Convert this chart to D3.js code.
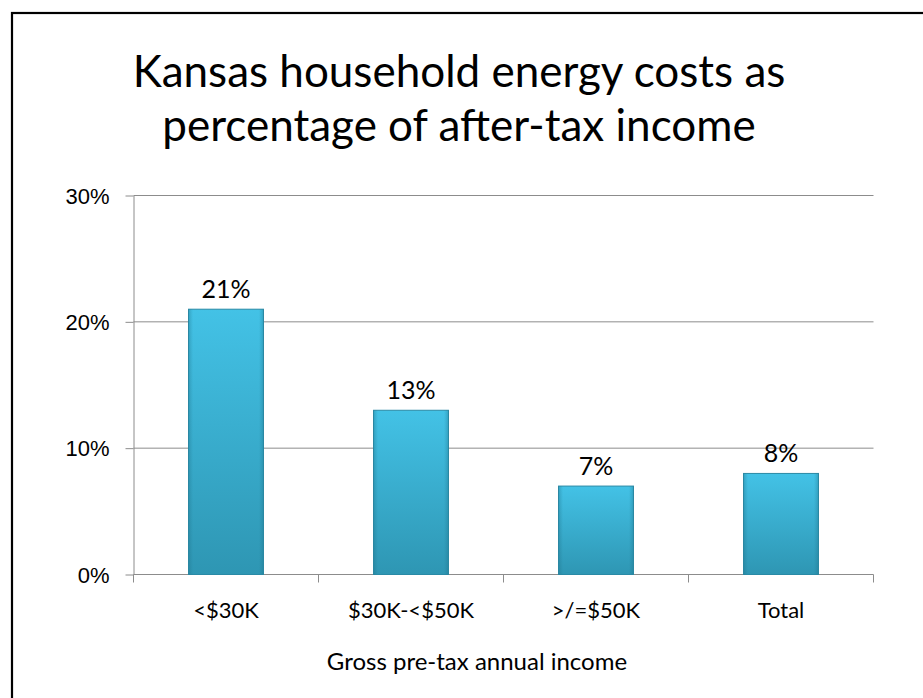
<!DOCTYPE html>
<html>
<head>
<meta charset="utf-8">
<script src="https://cdn.jsdelivr.net/npm/d3@7"></script>
<style>
  body { margin: 0; background: #fff; }
  svg { display: block; font-family: Lato, "Open Sans", sans-serif; }
  .grid line { stroke: #8c8c8c; stroke-width: 1; }
  .axis path, .axis line { stroke: #8c8c8c; stroke-width: 1; }
  .axis text { fill: #000; font-size: 22px; }
</style>
</head>
<body>
<div id="chart"></div>
<script>
// data
const categories = ['<$30K', '$30K-<$50K', '>/=$50K', 'Total'];
const shares = [21, 13, 7, 8];
const yTicks = [0, 10, 20, 30];
const titleLines = ['Kansas household energy costs as', 'percentage of after-tax income'];
const xTitle = 'Gross pre-tax annual income';

const width = 923;
const height = 698;
const marginTop = 195.5;
const marginBottom = 123.5;
const marginLeft = 133.5;
const marginRight = 49.5;

const svg = d3.select('#chart').append('svg')
  .attr('width', width)
  .attr('height', height);

// outer frame, right and bottom sides fall off the picture
svg.append('rect')
  .attr('x', 12)
  .attr('y', 13)
  .attr('width', width + 20)
  .attr('height', height + 20)
  .attr('fill', 'none')
  .attr('stroke', '#000')
  .attr('stroke-width', 2.2);

const defs = svg.append('defs');
const vGrad = defs.append('linearGradient')
  .attr('id', 'barV')
  .attr('x1', 0).attr('y1', 0).attr('x2', 0).attr('y2', 1);
vGrad.append('stop').attr('offset', '0%').attr('stop-color', '#43c2e6');
vGrad.append('stop').attr('offset', '100%').attr('stop-color', '#2e96b3');

const hGrad = defs.append('linearGradient')
  .attr('id', 'barH')
  .attr('x1', 0).attr('y1', 0).attr('x2', 1).attr('y2', 0);
hGrad.append('stop').attr('offset', '0%').attr('stop-color', '#1d6f86').attr('stop-opacity', 0.35);
hGrad.append('stop').attr('offset', '6%').attr('stop-color', '#1d6f86').attr('stop-opacity', 0);
hGrad.append('stop').attr('offset', '94%').attr('stop-color', '#1d6f86').attr('stop-opacity', 0);
hGrad.append('stop').attr('offset', '100%').attr('stop-color', '#1d6f86').attr('stop-opacity', 0.35);

const innerW = width - marginLeft - marginRight;
const innerH = height - marginTop - marginBottom;

const x = d3.scaleBand()
  .domain(categories)
  .range([marginLeft, marginLeft + innerW])
  .paddingInner(0.595)
  .paddingOuter(0.2975);

const y = d3.scaleLinear()
  .domain([0, 30])
  .range([marginTop + innerH, marginTop]);

// title
svg.append('text')
  .attr('x', 459)
  .attr('y', 87)
  .attr('text-anchor', 'middle')
  .style('font-size', '44px')
  .selectAll('tspan')
  .data(titleLines)
  .enter()
  .append('tspan')
  .attr('x', 459)
  .attr('dy', (d, i) => i === 0 ? 0 : 54)
  .text(d => d);

// gridlines
svg.append('g')
  .attr('class', 'grid')
  .selectAll('line')
  .data(yTicks.filter(d => d > 0))
  .enter()
  .append('line')
  .attr('x1', marginLeft)
  .attr('x2', marginLeft + innerW)
  .attr('y1', d => y(d))
  .attr('y2', d => y(d));

// y axis
svg.append('g')
  .attr('class', 'axis')
  .attr('transform', `translate(${marginLeft},0)`)
  .call(d3.axisLeft(y).tickValues(yTicks).tickSize(8).tickSizeOuter(0).tickPadding(16).tickFormat(d => d + '%'))
  .call(g => g.selectAll('text').attr('dy', '0.35em'));

// x axis with ticks between categories
const xAxisG = svg.append('g')
  .attr('class', 'axis')
  .attr('transform', `translate(0,${y(0)})`);
xAxisG.append('line')
  .attr('x1', marginLeft)
  .attr('x2', marginLeft + innerW);
const bounds = d3.range(categories.length + 1).map(i => marginLeft + i * innerW / categories.length);
xAxisG.selectAll('.xtick')
  .data(bounds)
  .enter()
  .append('line')
  .attr('class', 'xtick')
  .attr('x1', d => d)
  .attr('x2', d => d)
  .attr('y1', 0)
  .attr('y2', 8);
xAxisG.selectAll('.xlabel')
  .data(categories)
  .enter()
  .append('text')
  .attr('class', 'xlabel')
  .attr('x', d => x(d) + x.bandwidth() / 2)
  .attr('y', 43)
  .attr('text-anchor', 'middle')
  .text(d => d);

// bars
const bars = svg.append('g').selectAll('g')
  .data(categories.map((c, i) => ({ key: c, value: shares[i] })))
  .enter()
  .append('g');

bars.append('rect')
  .attr('x', d => x(d.key))
  .attr('y', d => y(d.value))
  .attr('width', x.bandwidth())
  .attr('height', d => y(0) - y(d.value))
  .attr('fill', 'url(#barV)')
  .attr('stroke', '#2a8aa6')
  .attr('stroke-width', 1);

bars.append('rect')
  .attr('x', d => x(d.key))
  .attr('y', d => y(d.value))
  .attr('width', x.bandwidth())
  .attr('height', d => y(0) - y(d.value))
  .attr('fill', 'url(#barH)');

// data labels
bars.append('text')
  .attr('x', d => x(d.key) + x.bandwidth() / 2)
  .attr('y', d => y(d.value) - 11)
  .attr('text-anchor', 'middle')
  .style('font-size', '25px')
  .text(d => d.value + '%');

// x axis title, sits a bit left of the plot centre in the original
svg.append('text')
  .attr('x', 477)
  .attr('y', 670)
  .attr('text-anchor', 'middle')
  .style('font-size', '24px')
  .text(xTitle);
</script>
</body>
</html>
